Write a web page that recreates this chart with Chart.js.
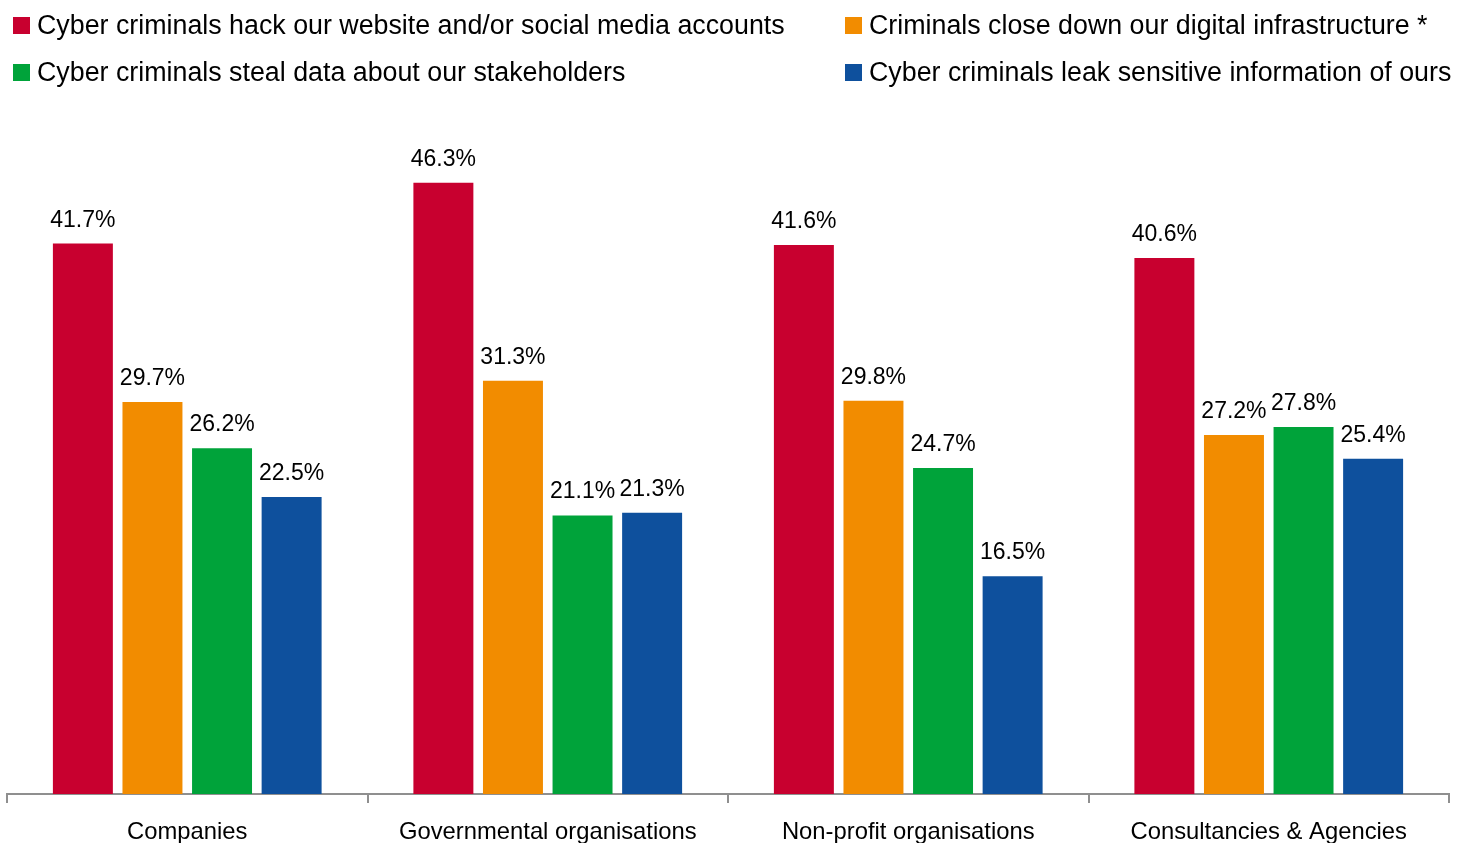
<!DOCTYPE html>
<html>
<head>
<meta charset="utf-8">
<script src="https://cdn.jsdelivr.net/npm/chart.js@4/dist/chart.umd.min.js"></script>
<style>
  html, body { margin: 0; padding: 0; background: #fff; }
  #wrap { width: 1457px; height: 843px; }
</style>
</head>
<body>
<div id="wrap"><canvas id="c" width="1457" height="843"></canvas></div>
<script>
// Organisation types on the x axis
const categories = ['Companies', 'Governmental organisations', 'Non-profit organisations', 'Consultancies & Agencies'];

// Share of respondents (%) per threat
const hackWebsite   = [41.7, 46.3, 41.6, 40.6];
const closeDown     = [29.7, 31.3, 29.8, 27.2];
const stealData     = [26.2, 21.1, 24.7, 27.8];
const leakInfo      = [22.5, 21.3, 16.5, 25.4];

const seriesNames = [
  'Cyber criminals hack our website and/or social media accounts',
  'Criminals close down our digital infrastructure *',
  'Cyber criminals steal data about our stakeholders',
  'Cyber criminals leak sensitive information of ours'
];
const seriesColors = ['#C8002F', '#F28C00', '#00A33A', '#0E509D'];

const FONT = '"Liberation Sans", Arial, sans-serif';

// Two-column legend drawn on the canvas
const columnLegend = {
  id: 'columnLegend',
  afterDraw(chart) {
    const ctx = chart.ctx;
    const colX = [13, 845];
    const rowY = [17, 64];
    const box = 17;
    ctx.save();
    ctx.font = '26.8px ' + FONT;
    ctx.textBaseline = 'alphabetic';
    ctx.textAlign = 'left';
    chart.data.datasets.forEach((ds, i) => {
      const x = colX[i % 2];
      const y = rowY[Math.floor(i / 2)];
      ctx.fillStyle = ds.backgroundColor;
      ctx.fillRect(x, y, box, box);
      ctx.fillStyle = '#000';
      ctx.fillText(ds.label, x + 24, y + box);
    });
    ctx.restore();
  }
};

// Value labels above each bar
const valueLabels = {
  id: 'valueLabels',
  afterDatasetsDraw(chart) {
    const ctx = chart.ctx;
    ctx.save();
    ctx.font = '23px ' + FONT;
    ctx.fillStyle = '#000';
    ctx.textAlign = 'center';
    ctx.textBaseline = 'alphabetic';
    chart.data.datasets.forEach((ds, i) => {
      chart.getDatasetMeta(i).data.forEach((bar, j) => {
        ctx.fillText(ds.data[j].toFixed(1) + '%', bar.x, bar.y - 17);
      });
    });
    ctx.restore();
  }
};

const allSeries = [hackWebsite, closeDown, stealData, leakInfo];

new Chart(document.getElementById('c'), {
  type: 'bar',
  data: {
    labels: categories,
    datasets: allSeries.map((vals, i) => ({
      label: seriesNames[i],
      data: vals,
      backgroundColor: seriesColors[i],
      borderWidth: 0,
      categoryPercentage: 0.772,
      barPercentage: 0.862
    }))
  },
  options: {
    responsive: false,
    animation: false,
    layout: { padding: { top: 134, left: 7, right: 8, bottom: 0 } },
    plugins: {
      legend: { display: false },
      tooltip: { enabled: false }
    },
    scales: {
      x: {
        offset: true,
        afterFit(scale) { scale.height = 49; },
        grid: {
          display: true,
          offset: true,
          drawOnChartArea: false,
          drawTicks: true,
          tickLength: 9,
          color: '#8f8f8f',
          lineWidth: 2
        },
        border: { display: true, color: '#8f8f8f', width: 2 },
        ticks: {
          color: '#000',
          padding: 14.7,
          maxRotation: 0,
          autoSkip: false,
          font: { family: FONT, size: 23.8 }
        }
      },
      y: {
        display: false,
        min: 0,
        max: 50
      }
    }
  },
  plugins: [valueLabels, columnLegend]
});
</script>
</body>
</html>
